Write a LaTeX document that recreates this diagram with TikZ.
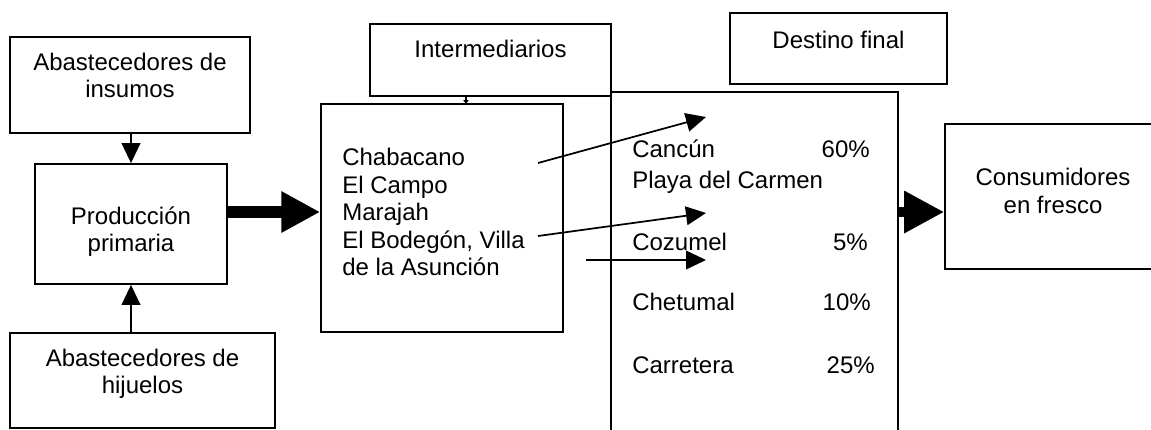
\documentclass[tikz,border=0pt]{standalone}
\usepackage{fontspec}
\setmainfont{Liberation Sans}
\usetikzlibrary{arrows.meta,fit}
\begin{document}
\begin{tikzpicture}[x=0.75pt,y=-0.75pt,
  box/.style={draw=black,line width=1.3pt,inner sep=0pt},
  txt/.style={inner sep=0pt,anchor=base,font=\fontsize{18}{20.5}\selectfont},
  txtl/.style={txt,anchor=base west},
  txtr/.style={txt,anchor=base east},
  thin/.style={line width=1.3pt,-{Triangle[length=15pt,width=14pt]}},
  tiny/.style={line width=0.8pt,-{Triangle[length=3pt,width=4pt]}}
]
\useasboundingbox (0,0) rectangle (1151,429);

% boxes
\node[box,fit={(10,37) (250,133)}] (ins) {};
\node[box,fit={(35,164) (227,284)}] (prod) {};
\node[box,fit={(10,333) (275,428)}] (hij) {};
\node[box,fit={(370,24) (611,96)}] (inter) {};
\node[box,fit={(321,104) (563,332)}] (chab) {};
\node[box,fit={(730,13) (947,84)}] (dfin) {};
\node[box,fit={(945,124) (1170,269)}] (cons) {};
\node[box,fit={(611,92) (898,450)}] (dest) {};

% texts
\node[txt] (t1) at (130,70) {Abastecedores de};
\node[txt] (t2) at (130,97) {insumos};
\node[txt] (t3) at (131,224) {Producción};
\node[txt] (t4) at (131,251) {primaria};
\node[txt] (t5) at (142.5,366) {Abastecedores de};
\node[txt] (t6) at (142.5,393) {hijuelos};
\node[txt] (t7) at (490.5,57) {Intermediarios};
\node[txtl] (c1) at (342,165) {Chabacano};
\node[txtl] (c2) at (342,193) {El Campo};
\node[txtl] (c3) at (342,220) {Marajah};
\node[txtl] (c4) at (342,248) {El Bodegón, Villa};
\node[txtl] (c5) at (342,275) {de la Asunción};
\node[txt] (t8) at (838.5,48) {Destino final};
\node[txt] (t9) at (1053,185) {Consumidores};
\node[txt] (t10) at (1053,213) {en fresco};
\node[txtl] (d1) at (632,157) {Cancún};
\node[txtr] (p1) at (870,157) {60\%};
\node[txtl] (d2) at (632,188) {Playa del Carmen};
\node[txtl] (d3) at (632,250) {Cozumel};
\node[txtr] (p3) at (868,250) {5\%};
\node[txtl] (d4) at (632,310) {Chetumal};
\node[txtr] (p4) at (871,310) {10\%};
\node[txtl] (d5) at (632,373) {Carretera};
\node[txtr] (p5) at (875,373) {25\%};

% connectors
\draw[thin] (ins.south -| prod.north) -- (prod.north);
\draw[thin] (prod.south |- hij.north) -- (prod.south);
\coordinate (ib) at (466,96);
\coordinate (ct) at (466,104);
\draw[tiny] (ib) -- (ct);
\draw[line width=9pt,-{Triangle[length=29pt,width=29pt]}] (prod.east |- 0,212) -- (chab.west |- 0,212);
\draw[line width=7pt,-{Triangle[length=30pt,width=30pt]}] (dest.east |- 0,212) -- (cons.west |- 0,212);
\coordinate (s1) at (538,163);
\coordinate (e1) at (706,117);
\coordinate (s2) at (538,236);
\coordinate (e2) at (706,213);
\coordinate (s3) at (586,260);
\coordinate (e3) at (706,260);
\draw[thin] (s1) -- (e1);
\draw[thin] (s2) -- (e2);
\draw[thin] (s3) -- (e3);
\end{tikzpicture}
\end{document}
